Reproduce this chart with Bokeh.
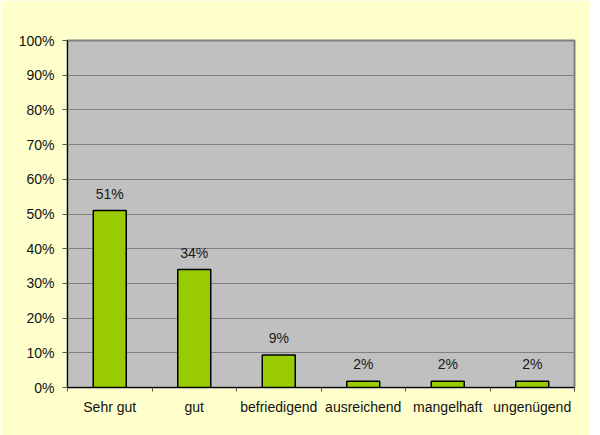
from bokeh.plotting import figure
from bokeh.models import Range1d, FixedTicker, ColumnDataSource, PrintfTickFormatter
from bokeh.core.properties import value
from bokeh.embed import file_html
from bokeh.resources import INLINE
import numpy as np

categories = ["Sehr gut", "gut", "befriedigend", "ausreichend", "mangelhaft", "ungenügend"]
values = [51.0, 34.0, 9.4, 1.8, 1.8, 1.8]
labels = ["51%", "34%", "9%", "2%", "2%", "2%"]
y_ticks = [0, 10, 20, 30, 40, 50, 60, 70, 80, 90, 100]

FONT = "Liberation Sans"
BG = "#FFFFCC"

x = np.arange(len(categories)) + 0.5
src = ColumnDataSource(dict(x=x, top=values, label=labels))

p = figure(width=590, height=435, output_backend="svg", toolbar_location=None,
           x_range=Range1d(0, len(categories)), y_range=Range1d(0, 100),
           min_border_left=67, min_border_right=16, min_border_top=40, min_border_bottom=48)
p.background_fill_color = "#C0C0C0"
p.border_fill_color = BG
p.outline_line_color = "#808080"
p.outline_line_width = 2

p.vbar(x="x", top="top", width=0.39, source=src, fill_color="#99CC00",
       line_color="black", line_width=1.5)
p.text(x="x", y="top", text="label", source=src, text_align="center",
       text_baseline="bottom", y_offset=-9, text_font=value(FONT),
       text_font_size="14px", text_color="#1a1a1a")

p.xgrid.visible = False
p.ygrid.ticker = FixedTicker(ticks=y_ticks)
p.ygrid.grid_line_color = "#808080"
p.ygrid.grid_line_width = 1

ya = p.yaxis[0]
ya.ticker = FixedTicker(ticks=y_ticks)
ya.formatter = PrintfTickFormatter(format="%d%%")
ya.axis_line_color = "black"
ya.major_tick_line_color = "#555555"
ya.major_tick_out = 5
ya.major_tick_in = 0
ya.minor_tick_line_color = None
ya.major_label_standoff = 8
ya.major_label_text_font = FONT
ya.major_label_text_font_size = "14px"
ya.major_label_text_color = "#111111"

xa = p.xaxis[0]
xa.ticker = FixedTicker(ticks=list(x), minor_ticks=list(range(len(categories) + 1)))
xa.major_label_overrides = {float(xi): c for xi, c in zip(x, categories)}
xa.axis_line_color = "black"
xa.major_tick_out = 0
xa.major_tick_in = 0
xa.minor_tick_out = 4
xa.minor_tick_in = 0
xa.minor_tick_line_color = "#555555"
xa.major_label_standoff = 7
xa.major_label_text_font = FONT
xa.major_label_text_font_size = "14px"
xa.major_label_text_color = "#111111"

open("out.html", "w").write(file_html(p, INLINE))
